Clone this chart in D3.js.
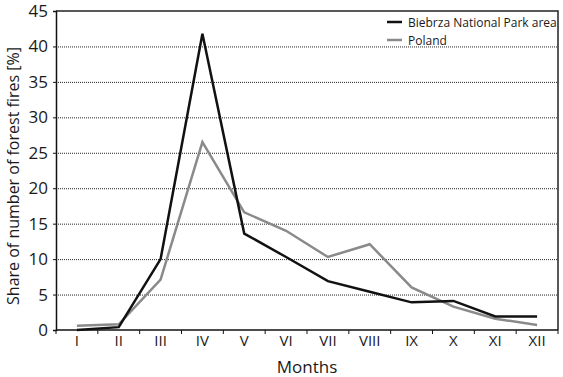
<!DOCTYPE html>
<html lang="en">
<head>
<meta charset="UTF-8"/>
<title>Forest fires by month</title>
<script src="https://d3js.org/d3.v7.min.js"></script>
<style>
  body { margin: 0; background: #fff; }
  svg text { font-family: "Open Sans", "DejaVu Sans", sans-serif; fill: #1a1a1a; }
</style>
</head>
<body>
<svg id="chart" width="563" height="377"></svg>
<script>
    // months on the x axis
    var months = ["I", "II", "III", "IV", "V", "VI", "VII", "VIII", "IX", "X", "XI", "XII"];
    // share of number of forest fires [%]
    var biebrza = [0.0, 0.4, 10.0, 41.8, 13.6, 10.3, 6.9, 5.4, 3.9, 4.1, 1.9, 1.9];
    var poland = [0.6, 0.8, 7.1, 26.5, 16.6, 14.0, 10.3, 12.1, 6.0, 3.3, 1.6, 0.7];
    var yTicks = [0, 5, 10, 15, 20, 25, 30, 35, 40, 45];
    var seriesNames = ["Biebrza National Park area", "Poland"];

    var svg = d3.select("#chart");
    var mLeft = 56, mRight = 558, mTop = 11, mBottom = 330;

    var x = d3.scaleBand().domain(months).range([mLeft, mRight]);
    var y = d3.scaleLinear().domain([0, 45]).range([mBottom, mTop]);

    // dotted grid lines
    svg.append("g")
        .selectAll("line")
        .data(yTicks.filter(function (d) { return d > 0 && d < 45; }))
        .enter().append("line")
        .attr("x1", mLeft).attr("x2", mRight)
        .attr("y1", function (d) { return y(d) + 0.5; })
        .attr("y2", function (d) { return y(d) + 0.5; })
        .attr("stroke", "#222")
        .attr("stroke-width", 1)
        .attr("stroke-dasharray", "1,1");

    // frame top + right
    svg.append("path")
        .attr("d", "M" + mLeft + "," + mTop + "H" + mRight + "V" + mBottom)
        .attr("fill", "none")
        .attr("stroke", "#222")
        .attr("stroke-width", 1.5);

    // y axis
    var yAxis = svg.append("g")
        .attr("transform", "translate(" + mLeft + ",0)")
        .call(d3.axisLeft(y).tickValues(yTicks).tickSize(3).tickPadding(5));
    yAxis.select(".domain").attr("stroke", "#111").attr("stroke-width", 1.5);
    yAxis.selectAll(".tick line").attr("stroke", "#111");
    yAxis.selectAll("text").style("font-size", "17px").attr("fill", "#1a1a1a");

    // x axis, ticks between months
    var xAxis = svg.append("g")
        .attr("transform", "translate(0," + mBottom + ")");
    xAxis.append("line")
        .attr("x1", mLeft).attr("x2", mRight)
        .attr("stroke", "#111").attr("stroke-width", 1.5);
    xAxis.selectAll(".sep")
        .data(months.concat(["end"]))
        .enter().append("line")
        .attr("x1", function (d, i) { return mLeft + i * x.bandwidth(); })
        .attr("x2", function (d, i) { return mLeft + i * x.bandwidth(); })
        .attr("y1", 0).attr("y2", 4)
        .attr("stroke", "#111");
    xAxis.selectAll(".lab")
        .data(months)
        .enter().append("text")
        .attr("x", function (d) { return x(d) + x.bandwidth() / 2; })
        .attr("y", 16)
        .attr("text-anchor", "middle")
        .style("font-size", "15px")
        .text(function (d) { return d; });

    // lines
    var line = d3.line()
        .x(function (d, i) { return x(months[i]) + x.bandwidth() / 2; })
        .y(function (d) { return y(d); });

    svg.append("path").datum(poland)
        .attr("d", line).attr("fill", "none")
        .attr("stroke", "#8a8a8a").attr("stroke-width", 2.5);
    svg.append("path").datum(biebrza)
        .attr("d", line).attr("fill", "none")
        .attr("stroke", "#111").attr("stroke-width", 2.5);

    // legend
    var legend = svg.append("g");
    var legColors = ["#111", "#8a8a8a"];
    seriesNames.forEach(function (name, i) {
        legend.append("line")
            .attr("x1", 387).attr("x2", 402)
            .attr("y1", 22 + i * 18).attr("y2", 22 + i * 18)
            .attr("stroke", legColors[i]).attr("stroke-width", 2.5);
        legend.append("text")
            .attr("x", 408).attr("y", 26.5 + i * 18)
            .style("font-size", "12px")
            .text(name);
    });

    // axis titles
    svg.append("text")
        .attr("x", 307).attr("y", 373)
        .attr("text-anchor", "middle")
        .style("font-size", "17px")
        .text("Months");
    svg.append("text")
        .attr("transform", "translate(19,176) rotate(-90)")
        .attr("text-anchor", "middle")
        .style("font-size", "16px")
        .text("Share of number of forest fires [%]");
</script>
</body>
</html>
